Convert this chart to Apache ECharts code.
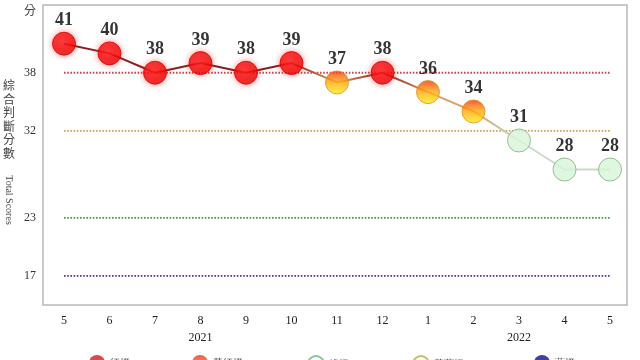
<!DOCTYPE html>
<html>
<head>
<meta charset="utf-8">
<script src="https://cdn.jsdelivr.net/npm/echarts@6/dist/echarts.min.js"></script>
<style>
html,body{margin:0;padding:0;background:#fff;}
#chart{width:640px;height:360px;}
</style>
</head>
<body>
<div id="chart"></div>
<script>
// ---- data ----
var months = ['5','6','7','8','9','10','11','12','1','2','3','4','5'];
var yearLabels = ['','','','2021','','','','','','','2022','',''];
var scores = [41, 40, 38, 39, 38, 39, 37, 38, 36, 34, 31, 28, 28];
var signals = ['R','R','R','R','R','R','YR','R','YR','YR','G','G','G'];
var thresholds = [38, 32, 23, 17];
var yTickLabels = [38, 32, 23, 17];
var legendNames = ['紅燈', '黃紅燈', '綠燈', '黃藍燈', '藍燈'];

// ---- styles ----
var SERIF = '"Liberation Serif", "Times New Roman", serif';
var thresholdColors = ['#c84a48', '#caa262', '#3f9a3f', '#3a3ab4'];
var lineColorBySignal = { R: '#8e1c1c', YR: '#d9a062', G: '#c9dac9' };

function markerStyle(sig) {
  if (sig === 'R') {
    return {
      color: new echarts.graphic.RadialGradient(0.42, 0.4, 0.65, [
        { offset: 0, color: '#ff2020' }, { offset: 1, color: '#e40000' }
      ]),
      borderColor: '#dc0000', borderWidth: 1,
      shadowBlur: 6, shadowColor: 'rgba(255,30,30,0.55)'
    };
  }
  if (sig === 'YR') {
    return {
      color: new echarts.graphic.LinearGradient(0, 0, 0, 1, [
        { offset: 0, color: '#f0300e' }, { offset: 0.45, color: '#ffa10a' }, { offset: 1, color: '#fff018' }
      ]),
      borderColor: '#d8902c', borderWidth: 1
    };
  }
  return { color: '#d7f5d7', borderColor: '#7fae7f', borderWidth: 1 };
}

var categories = months.map(function (m, i) { return i + ':' + m; });

var lineGradient = new echarts.graphic.LinearGradient(0, 0, 1, 0,
  signals.map(function (s, i) {
    return { offset: i / (signals.length - 1), color: lineColorBySignal[s] };
  }));

var series = [];
// threshold dotted lines
thresholds.forEach(function (t, k) {
  series.push({
    type: 'line', xAxisIndex: 1, yAxisIndex: 1,
    data: categories.map(function () { return t; }),
    symbol: 'none', silent: true, z: 1,
    lineStyle: { color: thresholdColors[k], width: 1.8, type: [1.6, 1.6] }
  });
});
// connecting line
series.push({
  type: 'line', xAxisIndex: 1, yAxisIndex: 1, data: scores,
  symbol: 'none', z: 2, silent: true,
  lineStyle: { color: lineGradient, width: 2 }
});
// markers with labels
series.push({
  type: 'scatter', xAxisIndex: 1, yAxisIndex: 1, z: 3,
  symbolSize: 23,
  data: scores.map(function (v, i) { return { value: v, itemStyle: markerStyle(signals[i]) }; }),
  label: {
    show: true, position: 'top', distance: 2,
    fontFamily: SERIF, fontWeight: 'bold', fontSize: 18, color: '#000'
  }
});

// legend dummy series
var legendStyles = [
  { color: '#d41c1c' },
  { color: new echarts.graphic.LinearGradient(0, 0, 0, 1, [
      { offset: 0, color: '#e03a1a' }, { offset: 1, color: '#f7a020' }]) },
  { color: '#ffffff', borderColor: '#70b870', borderWidth: 1.2 },
  { color: '#fbfbe8', borderColor: '#b0b050', borderWidth: 1.2 },
  { color: '#101090' }
];
var legendLeft = [89, 192, 307, 412, 534];
var legends = [];
legendNames.forEach(function (n, k) {
  series.push({ type: 'scatter', name: n, xAxisIndex: 1, yAxisIndex: 1, data: [], itemStyle: legendStyles[k] });
  legends.push({
    data: [n], left: legendLeft[k], top: 355, padding: 0, icon: 'circle',
    itemWidth: 16, itemHeight: 16, selectedMode: false,
    textStyle: { fontFamily: SERIF, fontSize: 10, color: '#333' }
  });
});

var option = {
  backgroundColor: '#ffffff',
  animation: false,
  legend: legends,
  grid: [
    { left: 43, right: 13, top: 5, bottom: 55, show: true, borderColor: '#b8b8b8', borderWidth: 1.5, backgroundColor: '#fff' },
    { left: 64, right: 30, top: 5, bottom: 55 }
  ],
  xAxis: [
    { gridIndex: 0, type: 'category', data: categories, show: false },
    {
      gridIndex: 1, type: 'category', data: categories, boundaryGap: false,
      axisLine: { show: false }, axisTick: { show: false }, splitLine: { show: false },
      axisLabel: {
        margin: 7, interval: 0, fontFamily: SERIF, fontSize: 12, color: '#222', lineHeight: 17,
        formatter: function (v, i) { return months[i] + '\n' + (yearLabels[i] || ' '); }
      }
    }
  ],
  yAxis: [
    {
      gridIndex: 0, type: 'value', min: 14, max: 45, interval: 1,
      axisLine: { show: false }, axisTick: { show: false }, splitLine: { show: false },
      axisLabel: {
        margin: 7, fontFamily: SERIF, fontSize: 12, color: '#333',
        formatter: function (v) { return yTickLabels.indexOf(v) >= 0 ? String(v) : ''; }
      }
    },
    {
      gridIndex: 1, type: 'value', min: 14, max: 45, interval: 1, show: false,
      splitLine: { show: false }
    }
  ],
  graphic: [
    { type: 'text', left: 24, top: 4, style: { text: '分', font: '12px "Noto Sans CJK TC", serif', fill: '#444' } },
    { type: 'text', left: 3, top: 79, style: { text: '綜\n合\n判\n斷\n分\n數', font: '12px "Noto Sans CJK TC", serif', fill: '#444', lineHeight: 13.5 } },
    { type: 'text', x: 9, y: 200, rotation: -Math.PI / 2,
      style: { text: 'Total Scores', font: '10px ' + SERIF, fill: '#444', align: 'center', verticalAlign: 'middle' } }
  ],
  series: series
};

var chart = echarts.init(document.getElementById('chart'), null, { renderer: 'canvas' });
chart.setOption(option);
</script>
</body>
</html>
